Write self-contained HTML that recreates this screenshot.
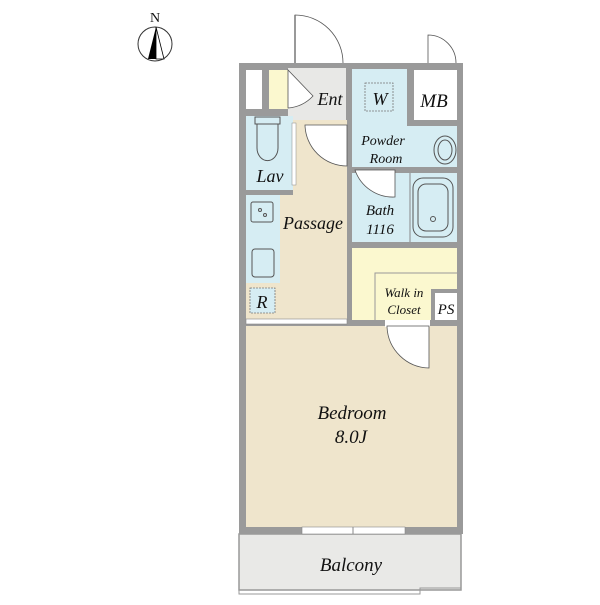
<!DOCTYPE html>
<html><head><style>
html,body{margin:0;padding:0;background:#fff;}
svg text{font-family:"Liberation Serif",serif;font-style:italic;fill:#111;}
</style></head><body>
<svg width="600" height="600" viewBox="0 0 600 600" xmlns="http://www.w3.org/2000/svg">
<text x="155" y="22" font-size="14" text-anchor="middle" style="font-style:normal">N</text>
<circle cx="155" cy="44" r="17" fill="none" stroke="#333" stroke-width="1"/>
<polygon points="156,27 148,59 164,59" fill="#000"/>
<polygon points="156,27 156,59 164,59" fill="#fff" stroke="#000" stroke-width="0.8"/>
<rect x="239" y="534" width="222" height="56" fill="#e9e9e7" stroke="#999" stroke-width="1.5"/>
<polyline points="239,590 239,594 420,594 420,588 461,588" fill="none" stroke="#999" stroke-width="1"/>
<rect x="239" y="63" width="224" height="471" fill="#9a9a9a"/>
<rect x="246" y="70" width="16" height="39" fill="#fff"/>
<rect x="269" y="70" width="19" height="39" fill="#fbf8cf"/>
<rect x="288" y="68" width="58" height="52" fill="#e8e8e6"/>
<rect x="352" y="69" width="55" height="58" fill="#d6edf3"/>
<rect x="352" y="126" width="105" height="41" fill="#d6edf3"/>
<rect x="414" y="70" width="43" height="50" fill="#fff"/>
<rect x="246" y="116" width="47" height="74" fill="#d6edf3"/>
<rect x="293" y="120" width="54" height="200" fill="#efe5cc"/>
<rect x="246" y="195" width="50" height="125" fill="#efe5cc"/>
<rect x="246" y="195" width="34" height="88" fill="#d6edf3"/>
<rect x="250" y="288" width="25" height="25" fill="#d6edf3" stroke="#777" stroke-width="0.8" stroke-dasharray="2,1"/>
<rect x="352" y="173" width="105" height="69" fill="#d6edf3"/>
<line x1="410" y1="173" x2="410" y2="242" stroke="#888" stroke-width="1"/>
<rect x="413" y="178" width="40" height="59" rx="10" fill="none" stroke="#555" stroke-width="1"/>
<rect x="418" y="184" width="30" height="47" rx="8" fill="none" stroke="#555" stroke-width="1"/>
<circle cx="433" cy="219" r="2.5" fill="none" stroke="#555"/>
<rect x="352" y="248" width="105" height="72" fill="#fbf8cf"/>
<polyline points="375,320 375,273 457,273" fill="none" stroke="#999" stroke-width="1"/>
<rect x="431" y="289" width="26" height="31" fill="#9a9a9a"/>
<rect x="435" y="293" width="22" height="27" fill="#fff"/>
<rect x="246" y="326" width="211" height="201" fill="#efe5cc"/>
<rect x="246" y="319" width="101" height="5" fill="#fff" stroke="#888" stroke-width="0.6"/>
<rect x="302" y="527" width="103" height="7" fill="#fff" stroke="#888" stroke-width="0.6"/>
<line x1="353" y1="527" x2="353" y2="534" stroke="#888"/>
<rect x="292" y="123" width="4" height="62" fill="#fff" stroke="#888" stroke-width="0.5"/>
<rect x="385" y="320" width="45" height="7" fill="#fff"/>
<path d="M387,326 L387,327 A43,43 0 0 0 429,368 L429,326 Z" fill="#fff" stroke="#555" stroke-width="0.8"/>
<path d="M295,63 L295,15 A48,48 0 0 1 343,63" fill="#fff" stroke="#555" stroke-width="0.8"/>
<line x1="295" y1="15" x2="295" y2="63" stroke="#777" stroke-width="1.5"/>
<path d="M428,63 L428,35 A28,28 0 0 1 456,63" fill="#fff" stroke="#555" stroke-width="0.8"/>
<path d="M288,70 L288,108 A38,38 0 0 0 313,96 Z" fill="#fff" stroke="#555" stroke-width="0.8"/>
<path d="M305,125 L347,125 L347,166 A42,42 0 0 1 305,125 Z" fill="#fff" stroke="#555" stroke-width="0.8"/>
<path d="M355,170 L395,170 L395,197 A40,40 0 0 1 355,170 Z" fill="#fff" stroke="#555" stroke-width="0.8"/>
<rect x="365" y="83" width="28" height="28" fill="none" stroke="#777" stroke-width="0.8" stroke-dasharray="2,1"/>
<ellipse cx="445" cy="150" rx="11" ry="14" fill="none" stroke="#555"/>
<ellipse cx="445" cy="150" rx="7" ry="10" fill="none" stroke="#555"/>
<rect x="255" y="117" width="25" height="7" fill="none" stroke="#555"/>
<path d="M257,124 L257,148 A10,12 0 0 0 278,148 L278,124" fill="none" stroke="#555"/>
<rect x="251" y="202" width="22" height="20" rx="2" fill="none" stroke="#555"/>
<circle cx="260" cy="210" r="1.5" fill="none" stroke="#555"/><circle cx="265" cy="215" r="1.5" fill="none" stroke="#555"/>
<rect x="252" y="249" width="22" height="28" rx="3" fill="none" stroke="#555"/>
<text x="330" y="105" font-size="18" text-anchor="middle">Ent</text>
<text x="380" y="105" font-size="18" text-anchor="middle">W</text>
<text x="434" y="107" font-size="19" text-anchor="middle">MB</text>
<text x="383" y="145" font-size="14" text-anchor="middle">Powder</text>
<text x="386" y="163" font-size="14" text-anchor="middle">Room</text>
<text x="270" y="182" font-size="18" text-anchor="middle">Lav</text>
<text x="313" y="229" font-size="18" text-anchor="middle">Passage</text>
<text x="380" y="215" font-size="15" text-anchor="middle">Bath</text>
<text x="380" y="234" font-size="15" text-anchor="middle">1116</text>
<text x="404" y="297" font-size="13" text-anchor="middle">Walk in</text>
<text x="404" y="314" font-size="13" text-anchor="middle">Closet</text>
<text x="446" y="314" font-size="15" text-anchor="middle">PS</text>
<text x="262" y="308" font-size="18" text-anchor="middle">R</text>
<text x="352" y="419" font-size="19" text-anchor="middle">Bedroom</text>
<text x="351" y="443" font-size="19" text-anchor="middle">8.0J</text>
<text x="351" y="571" font-size="19" text-anchor="middle">Balcony</text>
</svg>
</body></html>
